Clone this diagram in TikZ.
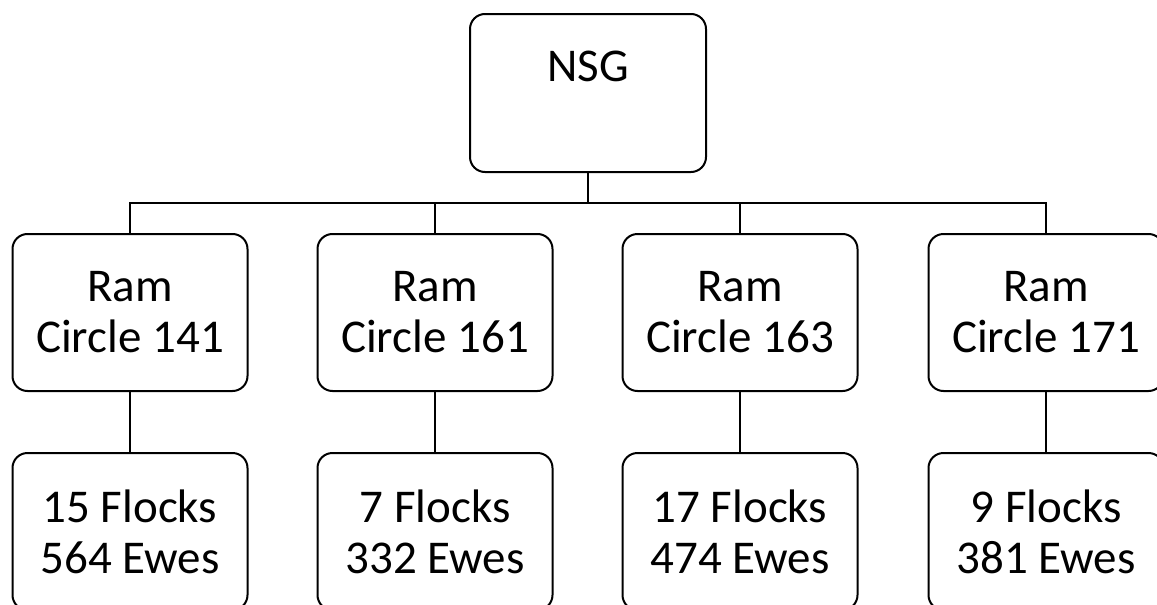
\documentclass[tikz,border=0pt]{standalone}
\usepackage{fontspec}
\setmainfont{Carlito}
\begin{document}
\begin{tikzpicture}[x=1pt,y=-1pt,
  orgbox/.style={draw=black, line width=2pt, rounded corners=15pt, minimum width=235pt, minimum height=157pt, inner sep=0pt, align=center, font=\fontsize{47}{51}\selectfont},
  conn/.style={draw=black, line width=2pt}]
\useasboundingbox (0,0) rectangle (1157,605);
\clip (0,0) rectangle (1157,605);
\node[orgbox, minimum width=236pt, minimum height=158pt] (nsg) at (588,93) {};
\node[font=\fontsize{47}{51}\selectfont, inner sep=0pt] (nsgt) at (588,66.5) {NSG};
\node[orgbox] (r1) at (130,312.5) {Ram\\Circle 141};
\node[orgbox] (r2) at (435,312.5) {Ram\\Circle 161};
\node[orgbox] (r3) at (740,312.5) {Ram\\Circle 163};
\node[orgbox] (r4) at (1046,312.5) {Ram\\Circle 171};
\node[orgbox] (f1) at (130,531.5) {15 Flocks\\564 Ewes};
\node[orgbox] (f2) at (435,531.5) {7 Flocks\\332 Ewes};
\node[orgbox] (f3) at (740,531.5) {17 Flocks\\474 Ewes};
\node[orgbox] (f4) at (1046,531.5) {9 Flocks\\381 Ewes};
\coordinate (bus) at (588,202.5);
\draw[conn] (nsg.south) -- (bus);
\draw[conn] (r1.north) |- (bus) -| (r4.north);
\draw[conn] (r2.north) -- (r2.north |- bus);
\draw[conn] (r3.north) -- (r3.north |- bus);
\draw[conn] (r1.south) -- (f1.north);
\draw[conn] (r2.south) -- (f2.north);
\draw[conn] (r3.south) -- (f3.north);
\draw[conn] (r4.south) -- (f4.north);
\end{tikzpicture}
\end{document}
